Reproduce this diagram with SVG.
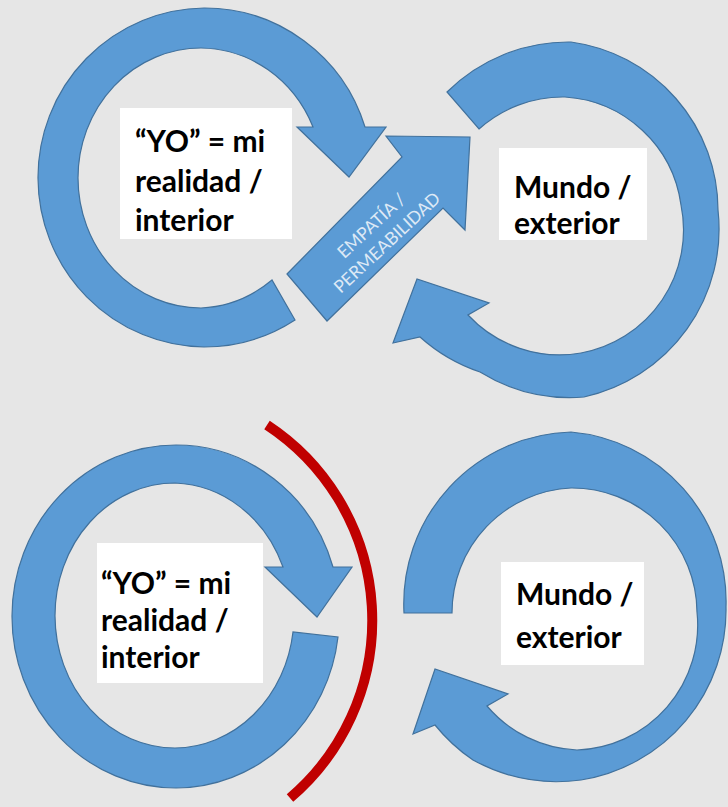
<svg xmlns="http://www.w3.org/2000/svg" width="728" height="807" viewBox="0 0 728 807">
<style>
.ring{fill:#5b9bd5;stroke:#41719c;stroke-width:1.2;stroke-linejoin:miter}
.box{fill:#ffffff}
.lbl{font-family:Lato,"Liberation Sans",sans-serif;font-weight:bold;font-size:30px;fill:#000000}
.emp{font-family:Lato,"Liberation Sans",sans-serif;font-size:17.5px;fill:#dde9f6;text-anchor:middle}
.barrier{fill:none;stroke:#c00000;stroke-width:10}
</style>
<rect width="728" height="807" fill="#e6e6e6"/>

<g id="yo-top">
<path class="ring" d="M295,320 A168,169.5 0 0 1 204,347 A168,169.5 0 0 1 38,178 A168,169.5 0 0 1 204,8 A168,169.5 0 0 1 365,127 L386,127 L349,177 L297,127 L313,127 A123,130 0 0 0 201,48 A123,130 0 0 0 78,178 A123,130 0 0 0 201,308 A123,130 0 0 0 272,280 Z"/>
<rect class="box" x="120" y="108" width="172" height="131"/>
<text class="lbl" x="135" y="152">“YO” = mi</text>
<text class="lbl" x="135" y="192">realidad /</text>
<text class="lbl" x="135" y="231">interior</text>
</g>

<g id="mundo-top">
<path class="ring" d="M447,92 A172,172 0 0 1 571,42 A170,170 0 0 1 718,210 A172,172 0 0 1 584,397 A172,172 0 0 1 480,372 A172,172 0 0 1 420,337 L393,343 L417,279 L489,303 L468,315 A125,125 0 0 0 581,353 A125,125 0 0 0 681,205 A125,125 0 0 0 565,97 A125,125 0 0 0 479,129 Z"/>
<rect class="box" x="499" y="148" width="148" height="92"/>
<text class="lbl" x="514" y="198">Mundo /</text>
<text class="lbl" x="514" y="234">exterior</text>
</g>

<g id="yo-bottom">
<path class="ring" d="M338,637 A164,171.5 0 0 1 176,788 A164,171.5 0 0 1 12,616 A164,171.5 0 0 1 176,445 A164,171.5 0 0 1 333,567 L352,567 L317,617 L265,567 L283,567 A120,132.5 0 0 0 175,483 A120,132.5 0 0 0 55,616 A120,132.5 0 0 0 175,748 A120,132.5 0 0 0 293,632 Z"/>
<rect class="box" x="97" y="543" width="166" height="140"/>
<text class="lbl" x="101" y="594">“YO” = mi</text>
<text class="lbl" x="101" y="631">realidad /</text>
<text class="lbl" x="101" y="668">interior</text>
</g>

<g id="mundo-bottom">
<path class="ring" d="M404,613 A172,172 0 0 1 571,432 A170,170 0 0 1 726,607 A172,172 0 0 1 581,780 A175,175 0 0 1 473,760 A175,175 0 0 1 435,725 L413,734 L435,669 L508,694 L487,706 A125,125 0 0 0 577,750 A125,125 0 0 0 697,612 A125,125 0 0 0 571,488 A125,125 0 0 0 452,613 Z"/>
<rect class="box" x="501" y="562" width="143" height="103"/>
<text class="lbl" x="516" y="605">Mundo /</text>
<text class="lbl" x="516" y="648">exterior</text>
</g>

<g id="connectors">
<g id="empatia">
<path class="ring" d="M287,274 L402,157 L386,136 L470,137 L465,230 L443,208 L327,321 Z"/>
<g transform="translate(379,234) rotate(-43)">
<text class="emp" x="0" y="-5.2">EMPATÍA /</text>
<text class="emp" x="0" y="17.8">PERMEABILIDAD</text>
</g>
</g>
</g>

<g id="barrier">
<path class="barrier" d="M267,425 A233.5,233.5 0 0 1 290,798"/>
</g>
</svg>
